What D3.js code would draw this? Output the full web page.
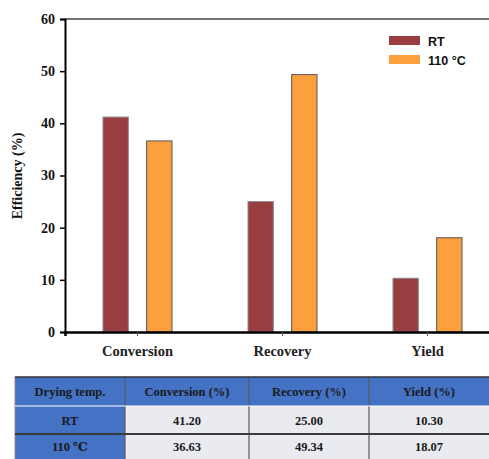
<!DOCTYPE html>
<html><head><meta charset="utf-8">
<script src="https://cdn.jsdelivr.net/npm/d3@7"></script>
<style>body{margin:0;background:#fff}svg{display:block}</style>
</head><body><svg id="c" width="489" height="459"></svg>
<script>
const categories = ["Conversion", "Recovery", "Yield"];
const seriesNames = ["RT", "110 °C"];
const rtValues = [41.20, 25.00, 10.30];
const hotValues = [36.63, 49.34, 18.07];
const yTicks = [0, 10, 20, 30, 40, 50, 60];
const tableHeader = ["Drying temp.", "Conversion (%)", "Recovery (%)", "Yield  (%)"];
const tableRowLabels = ["RT", "110  ℃"];
const tableRT = ["41.20", "25.00", "10.30"];
const tableHot = ["36.63", "49.34", "18.07"];

const colors = ["#9a3d40", "#fca03e"];
const strokes = ["#8a8a8a", "#555"];
const serif = "'Liberation Serif','DejaVu Serif',serif";

const svg = d3.select("#c");
const x0 = d3.scaleBand().domain(categories).range([65, 500]).padding(0);
const x1 = d3.scaleBand().domain(seriesNames).range([38, 107]).paddingInner(0.42).paddingOuter(0);
const y = d3.scaleLinear().domain([0, 60]).range([332, 19]);

// frame top line
svg.append("line").attr("x1", 65).attr("x2", 489).attr("y1", y(60)).attr("y2", y(60))
  .attr("stroke", "#444").attr("stroke-width", 1.5);

const data = categories.map((c, i) => ({c, vals: [rtValues[i], hotValues[i]]}));
const g = svg.append("g");
data.forEach(d => {
  d.vals.forEach((v, j) => {
    g.append("rect")
      .attr("x", x0(d.c) + x1(seriesNames[j]))
      .attr("width", x1.bandwidth())
      .attr("y", y(v))
      .attr("height", y(0) - y(v))
      .attr("fill", colors[j])
      .attr("stroke", strokes[j]).attr("stroke-width", 1);
  });
});

// y axis
const yAxis = svg.append("g").attr("transform", "translate(65,0)")
  .call(d3.axisLeft(y).tickValues(yTicks).tickSize(5).tickPadding(5));
yAxis.select(".domain").attr("stroke", "#000").attr("stroke-width", 2);
yAxis.selectAll(".tick line").attr("stroke", "#000").attr("stroke-width", 1.5);
yAxis.selectAll("text").attr("font-family", serif).attr("font-weight", "bold")
  .attr("font-size", 14).attr("fill", "#111");

// x axis
const xAxis = svg.append("g").attr("transform", "translate(0,332)")
  .call(d3.axisBottom(x0).tickSize(4).tickPadding(10));
xAxis.select(".domain").attr("stroke", "#000").attr("stroke-width", 2.5);
xAxis.selectAll(".tick line").attr("stroke", "#555").attr("stroke-width", 1);
xAxis.selectAll("text").attr("font-family", serif).attr("font-weight", "bold")
  .attr("font-size", 14.5).attr("fill", "#222");

// y title
svg.append("text").attr("transform", "translate(22,176) rotate(-90)")
  .attr("text-anchor", "middle").attr("font-family", serif).attr("font-weight", "bold")
  .attr("font-size", 14).attr("fill", "#111").text("Efficiency (%)");

// legend
seriesNames.forEach((s, i) => {
  const ly = 36 + i * 19;
  svg.append("rect").attr("x", 389).attr("y", ly).attr("width", 31).attr("height", 9)
    .attr("fill", colors[i]);
  svg.append("text").attr("x", 428).attr("y", ly + 9.5)
    .attr("font-family", "'Liberation Sans',Arial,sans-serif").attr("font-weight", "bold")
    .attr("font-size", 12.5).attr("fill", "#111").text(s);
});

// table
const colX = [15, 125, 249, 369, 489];
const rowY = [377, 406, 434, 459];
const tbl = svg.append("g");
const rows = [tableHeader, [tableRowLabels[0], ...tableRT], [tableRowLabels[1], ...tableHot]];
rows.forEach((r, ri) => {
  r.forEach((t, ci) => {
    const blue = ri === 0 || ci === 0;
    tbl.append("rect").attr("x", colX[ci]).attr("y", rowY[ri])
      .attr("width", colX[ci + 1] - colX[ci]).attr("height", rowY[ri + 1] - rowY[ri])
      .attr("fill", blue ? "#4472c4" : "#e9ebf1");
    tbl.append("text").attr("x", (colX[ci] + colX[ci + 1]) / 2)
      .attr("y", (rowY[ri] + rowY[ri + 1]) / 2 + 4.5)
      .attr("text-anchor", "middle").attr("font-family", serif).attr("font-weight", "bold")
      .attr("font-size", 12.5).attr("fill", "#1a1a1a").text(t);
  });
});
// table grid lines
colX.slice(1, 4).forEach(cx => {
  tbl.append("line").attr("x1", cx).attr("x2", cx).attr("y1", rowY[0]).attr("y2", 459)
    .attr("stroke", "#5a5a5a").attr("stroke-width", 1.2);
});
tbl.append("line").attr("x1", 15).attr("x2", 15).attr("y1", rowY[0]).attr("y2", 459)
  .attr("stroke", "#888").attr("stroke-width", 1);
tbl.append("line").attr("x1", 15).attr("x2", 489).attr("y1", rowY[0]).attr("y2", rowY[0])
  .attr("stroke", "#333").attr("stroke-width", 1.5);
tbl.append("line").attr("x1", 15).attr("x2", 489).attr("y1", rowY[1]).attr("y2", rowY[1])
  .attr("stroke", "#ffffff").attr("stroke-width", 1);
tbl.append("line").attr("x1", 15).attr("x2", 489).attr("y1", rowY[2]).attr("y2", rowY[2])
  .attr("stroke", "#3a3a3a").attr("stroke-width", 2);
</script></body></html>
